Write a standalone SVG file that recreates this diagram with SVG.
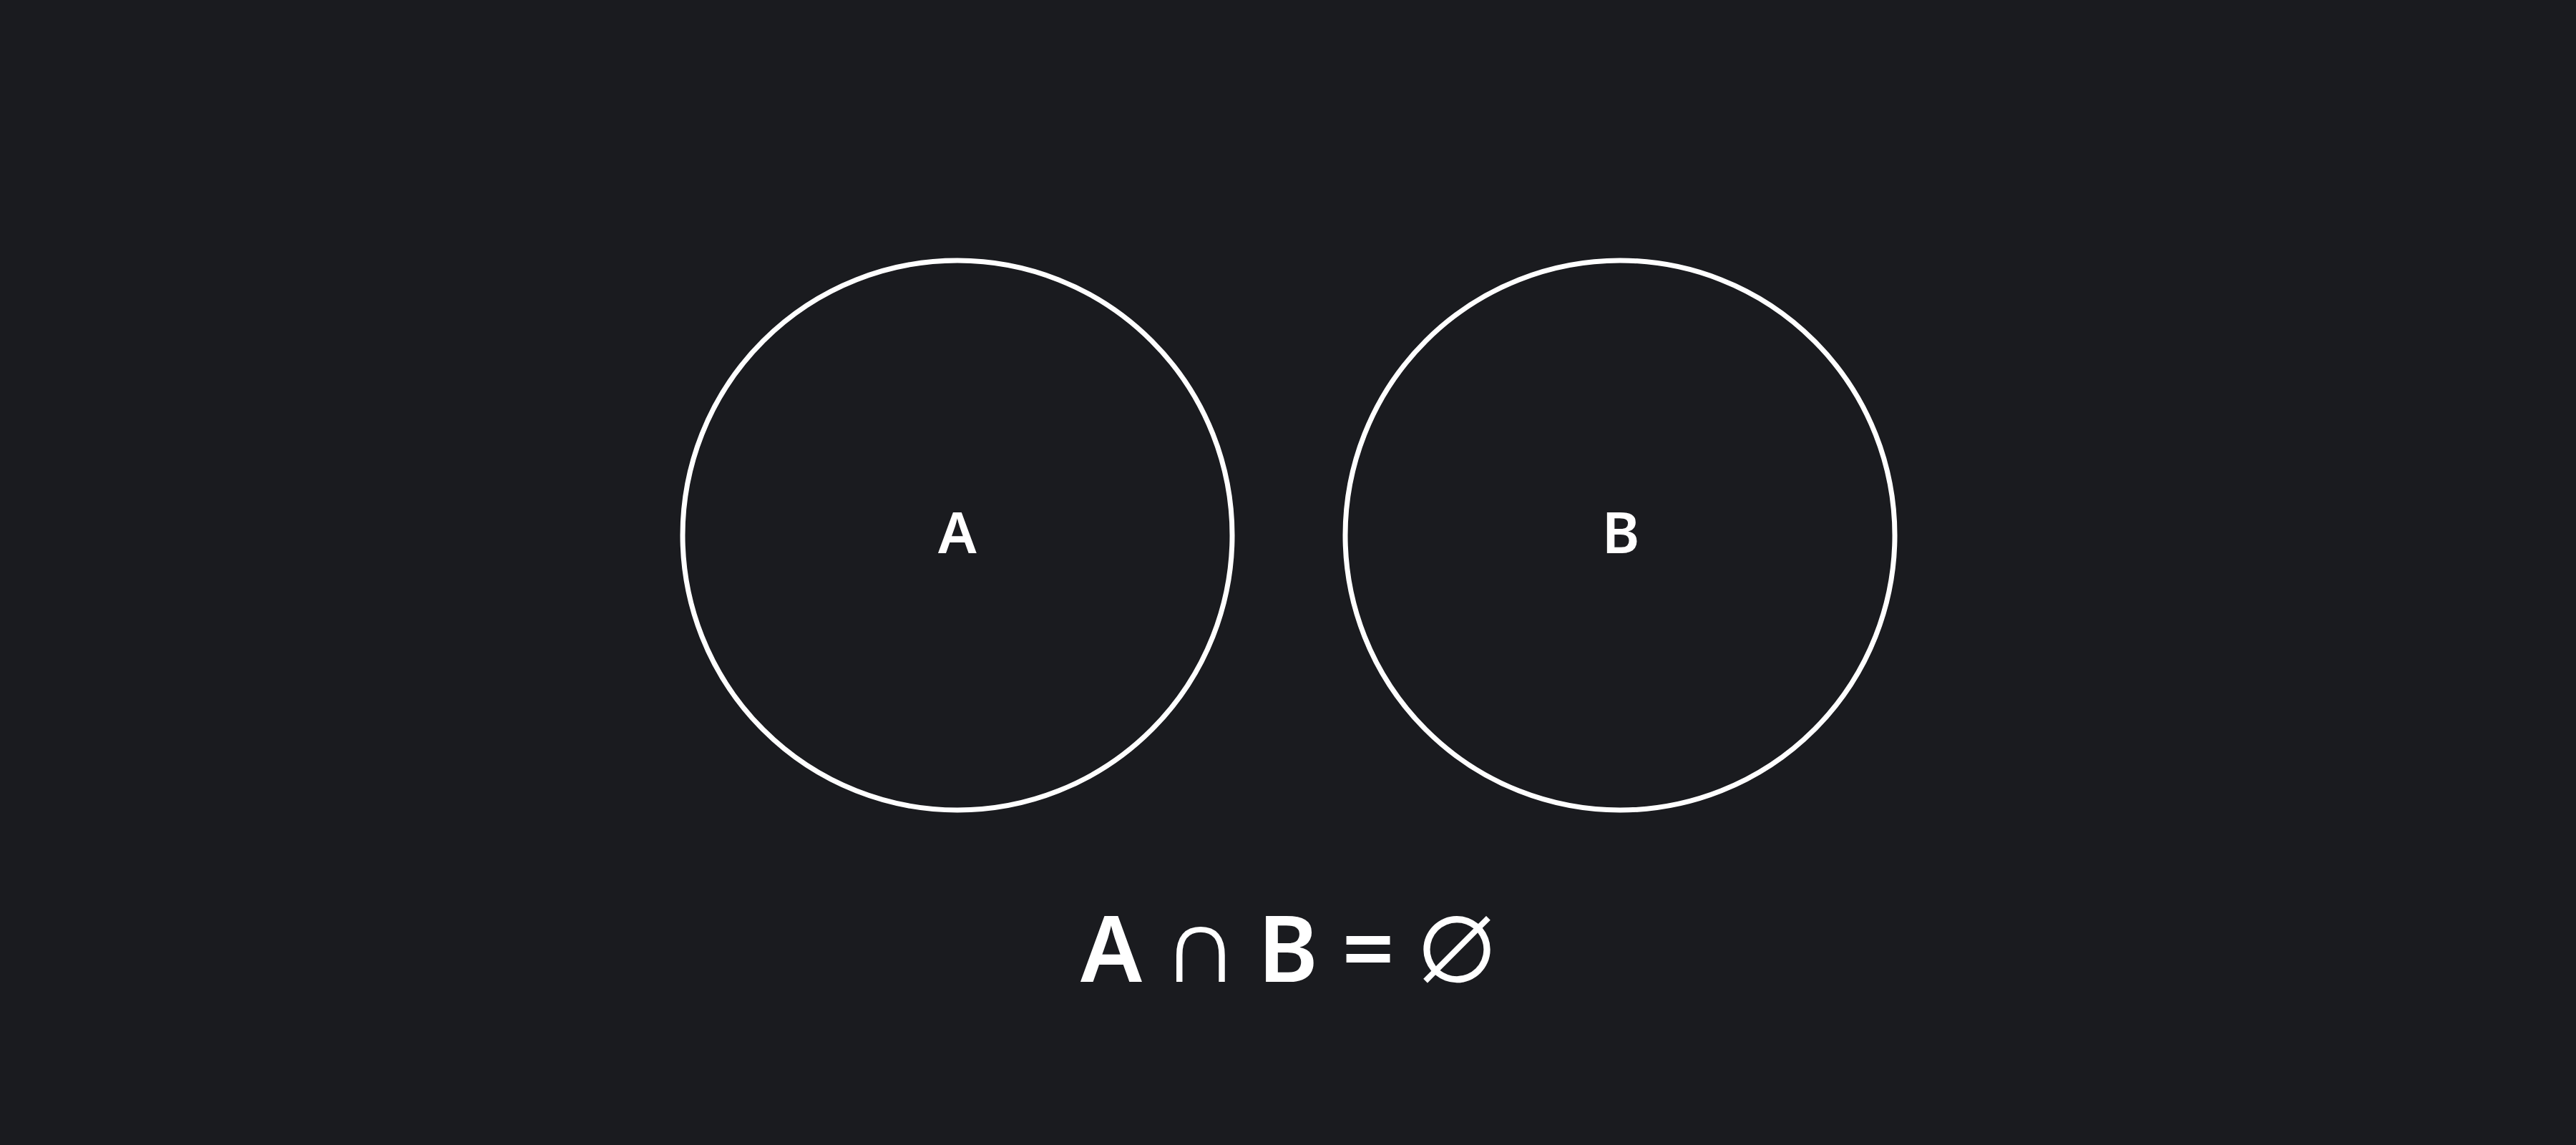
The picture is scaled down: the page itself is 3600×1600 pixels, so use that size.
<svg xmlns="http://www.w3.org/2000/svg" width="3600" height="1600" viewBox="0 0 3600 1600">
<style>
.set{fill:none;stroke:#ffffff;stroke-width:7}
.lbl{fill:#ffffff;font-family:"Noto Sans","Open Sans","Liberation Sans",sans-serif;font-weight:600;font-size:80px;text-anchor:middle}
.eq{fill:#ffffff;font-family:"Noto Sans","Open Sans","Liberation Sans",sans-serif;font-weight:600;font-size:128px;text-anchor:middle}
.op{font-family:"Noto Sans Math","Noto Sans",sans-serif;font-weight:normal;font-size:116px}
.empty{font-family:"Noto Sans Math","DejaVu Sans",sans-serif;font-weight:normal;font-size:127px}
</style>
<rect width="3600" height="1600" fill="#1a1b1f"/>
<g id="setA">
<circle class="set" cx="1338" cy="748" r="384"/>
<text class="lbl" x="1338" y="773">A</text>
</g>
<g id="setB">
<circle class="set" cx="2264" cy="748" r="384"/>
<text class="lbl" x="2265" y="773">B</text>
</g>
<g id="connectors"></g>
<g id="formula">
<text class="eq" y="1372"><tspan x="1553 1615">A </tspan><tspan class="op" x="1678 1740">∩ </tspan><tspan x="1800 1858">B </tspan><tspan x="1912 1965">= </tspan><tspan class="empty" x="2036">∅</tspan></text>
</g>
</svg>
